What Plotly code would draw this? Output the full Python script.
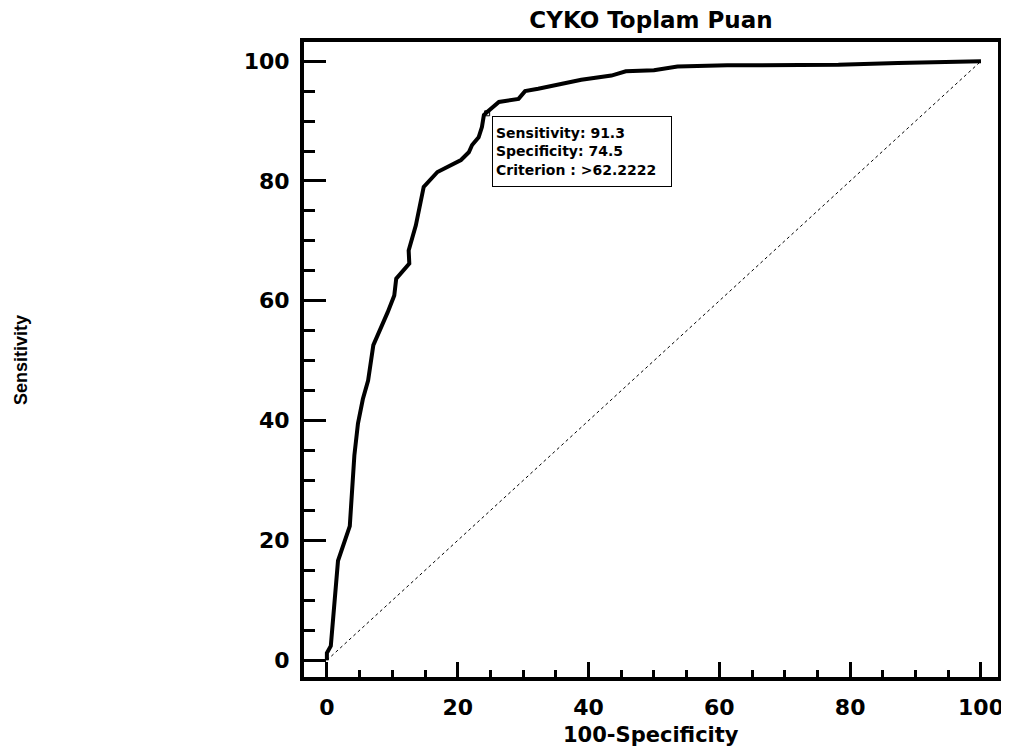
import plotly.graph_objects as go

# ROC curve (100-Specificity, Sensitivity)
fpr = [0, 0, 0.6, 1.7, 3.5, 4.2, 4.75, 5.5, 6.3, 7.1, 9.3, 10.3, 10.6, 12.6, 12.5,
       13.6, 14.8, 16.9, 20.5, 21.7, 22.2, 23.2, 23.7, 24.0, 24.5, 26.3, 29.3,
       30.3, 32.3, 34.9, 37.4, 38.9, 43.5, 45.7, 50.0, 53.6, 61.2, 78.2, 87.3,
       95.5, 100]
tpr = [0, 1.2, 2.4, 16.6, 22.4, 34.2, 39.5, 43.6, 46.7, 52.6, 58.1, 60.9, 63.7,
       66.2, 68.4, 72.6, 79.0, 81.5, 83.5, 84.8, 86.0, 87.3, 89.0, 91.0, 91.5,
       93.2, 93.7, 95.0, 95.4, 96.0, 96.6, 96.9, 97.6, 98.3, 98.5, 99.1, 99.3,
       99.4, 99.7, 100, 100]
ref_x = [0, 100]
ref_y = [0, 100]
opt_x = [24.5]
opt_y = [91.3]
title_text = "CYKO Toplam Puan"
x_title = "100-Specificity"
y_title = "Sensitivity"
box_lines = ["Sensitivity: 91.3", "Specificity: 74.5", "Criterion : >62.2222"]
tick_vals = [0, 20, 40, 60, 80, 100]

FONT = "DejaVu Sans"
W, H = 1001, 739  # page body has an 8px margin; keep page inside the window

fig = go.Figure()
fig.add_trace(go.Scatter(x=ref_x, y=ref_y, mode="lines",
                         line=dict(color="black", width=1, dash="dot"),
                         showlegend=False, hoverinfo="skip"))
fig.add_trace(go.Scatter(x=fpr, y=tpr, mode="lines",
                         line=dict(color="black", width=4),
                         showlegend=False))
fig.add_trace(go.Scatter(x=opt_x, y=opt_y, mode="markers",
                         marker=dict(symbol="square-open", size=5, color="black",
                                     line=dict(width=1)),
                         showlegend=False))

axis_common = dict(
    showline=True, linecolor="black", linewidth=4, mirror=True,
    showgrid=False, zeroline=False,
    ticks="inside", tickcolor="black", tickwidth=3,
    tickvals=tick_vals,
    tickfont=dict(family=FONT, size=22, color="black", weight="bold"),
)

fig.update_xaxes(**axis_common, range=[-3.5, 102.6], ticklen=15,
                 ticklabelstandoff=8,
                 minor=dict(dtick=5, tick0=0, ticks="inside", ticklen=7,
                            tickwidth=3, tickcolor="black"))
fig.update_yaxes(**axis_common, range=[-2.8, 103.2], ticklen=22,
                 ticklabelstandoff=6,
                 minor=dict(dtick=5, tick0=0, ticks="inside", ticklen=11,
                            tickwidth=3, tickcolor="black"))

fig.add_annotation(x=25.3, y=90.8, xref="x", yref="y", xanchor="left",
                   yanchor="top", text="<br>".join(box_lines), showarrow=False,
                   align="left", valign="middle", width=172, height=63,
                   borderpad=3, bordercolor="black", borderwidth=1,
                   bgcolor="white",
                   font=dict(family=FONT, size=14, color="black", weight="bold"))

fig.add_annotation(x=-0.4086, y=0.5, xref="paper", yref="paper",
                   xanchor="center", yanchor="middle",
                   text=y_title, textangle=-90, showarrow=False,
                   font=dict(family="Liberation Sans", size=18, color="black",
                             weight="bold"))
fig.add_annotation(x=0.5, y=-0.092, xref="paper", yref="paper",
                   xanchor="center", yanchor="middle",
                   text=x_title, showarrow=False,
                   font=dict(family=FONT, size=21, color="black", weight="bold"))

fig.update_layout(
    width=W, height=H,
    margin=dict(l=296, r=5, t=34, b=70),
    paper_bgcolor="white", plot_bgcolor="white",
    title=dict(text=title_text, x=0.5, xref="paper", xanchor="center",
               y=1 - 12 / H, yref="container", yanchor="middle",
               font=dict(family=FONT, size=23, color="black", weight="bold")),
)

fig.write_html("out.html")
